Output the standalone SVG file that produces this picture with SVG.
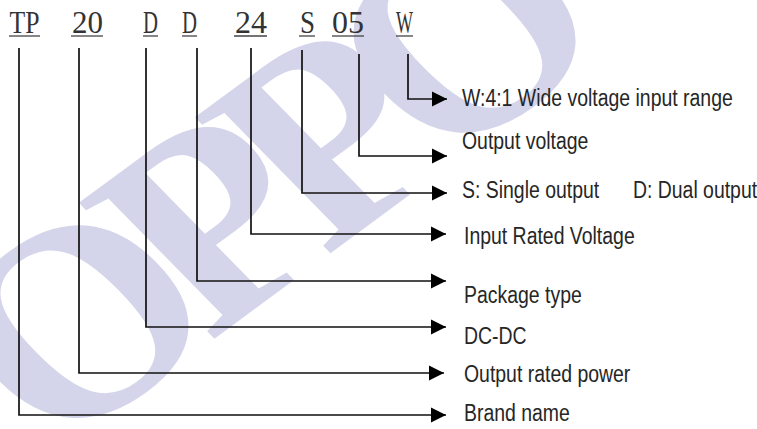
<svg xmlns="http://www.w3.org/2000/svg" width="757" height="429" viewBox="0 0 757 429">
<defs>
<style>
.wm{font-family:"Liberation Serif",serif;font-weight:bold;font-size:290px;letter-spacing:-33px;fill:#d4d5ea}
.code{font-family:"Liberation Serif",serif;font-size:31px;fill:#333}
.lbl{font-family:"Liberation Sans",Arial,sans-serif;font-size:24px;fill:#262626}
.ul{stroke:#444;stroke-width:1.3;fill:none}
.conn{stroke:#111;stroke-width:1.7;fill:none}
</style>
<marker id="arr" markerUnits="userSpaceOnUse" markerWidth="16" markerHeight="16" refX="15" refY="7.5" orient="auto" viewBox="0 0 16 15">
<path d="M0,0 L15,7.5 L0,15 Z" fill="#000"/>
</marker>
</defs>
<rect width="757" height="429" fill="#fff"/>
<text class="wm" transform="translate(54,457) rotate(-36.4) skewX(8)">OPPO</text>

<g id="code-TP"><text class="code" x="9.5" y="33" textLength="30" lengthAdjust="spacingAndGlyphs">TP</text><line class="ul" x1="9" y1="36" x2="40" y2="36"/></g>
<g id="code-20"><text class="code" x="72" y="33" textLength="31" lengthAdjust="spacingAndGlyphs">20</text><line class="ul" x1="71" y1="36" x2="103" y2="36"/></g>
<g id="code-D1"><text class="code" x="143" y="33" textLength="15" lengthAdjust="spacingAndGlyphs">D</text><line class="ul" x1="143" y1="36" x2="158" y2="36"/></g>
<g id="code-D2"><text class="code" x="182" y="33" textLength="15" lengthAdjust="spacingAndGlyphs">D</text><line class="ul" x1="182" y1="36" x2="197" y2="36"/></g>
<g id="code-24"><text class="code" x="235" y="33" textLength="32" lengthAdjust="spacingAndGlyphs">24</text><line class="ul" x1="234" y1="36" x2="267" y2="36"/></g>
<g id="code-S"><text class="code" x="300" y="33" textLength="15" lengthAdjust="spacingAndGlyphs">S</text><line class="ul" x1="299" y1="36" x2="315" y2="36"/></g>
<g id="code-05"><text class="code" x="332" y="33" textLength="32" lengthAdjust="spacingAndGlyphs">05</text><line class="ul" x1="332" y1="36" x2="364" y2="36"/></g>
<g id="code-W"><text class="code" x="396" y="33" textLength="17" lengthAdjust="spacingAndGlyphs">W</text><line class="ul" x1="396" y1="36" x2="413" y2="36"/></g>

<g id="connectors">
<path class="conn" marker-end="url(#arr)" d="M408,54 V99 H447"/>
<path class="conn" marker-end="url(#arr)" d="M359,54 V156 H447"/>
<path class="conn" marker-end="url(#arr)" d="M302,50 V193 H447"/>
<path class="conn" marker-end="url(#arr)" d="M251,48 V234 H446"/>
<path class="conn" marker-end="url(#arr)" d="M197,48 V281 H446"/>
<path class="conn" marker-end="url(#arr)" d="M146,48 V327 H446"/>
<path class="conn" marker-end="url(#arr)" d="M79,48 V373 H444"/>
<path class="conn" marker-end="url(#arr)" d="M19,48 V415 H446"/>
</g>

<g id="label-W"><text class="lbl" transform="translate(462,106) scale(0.81,1)">W:4:1 Wide voltage input range</text></g>
<g id="label-05"><text class="lbl" transform="translate(462,149) scale(0.81,1)">Output voltage</text></g>
<g id="label-S"><text class="lbl" transform="translate(462,198) scale(0.81,1)"><tspan x="0">S: Single output</tspan><tspan x="211">D: Dual output</tspan></text></g>
<g id="label-24"><text class="lbl" transform="translate(464,244) scale(0.81,1)">Input Rated Voltage</text></g>
<g id="label-D2"><text class="lbl" transform="translate(464,303) scale(0.81,1)">Package type</text></g>
<g id="label-D1"><text class="lbl" transform="translate(464,344) scale(0.81,1)">DC-DC</text></g>
<g id="label-20"><text class="lbl" transform="translate(464,382) scale(0.81,1)">Output rated power</text></g>
<g id="label-TP"><text class="lbl" transform="translate(464,421) scale(0.81,1)">Brand name</text></g>
</svg>
